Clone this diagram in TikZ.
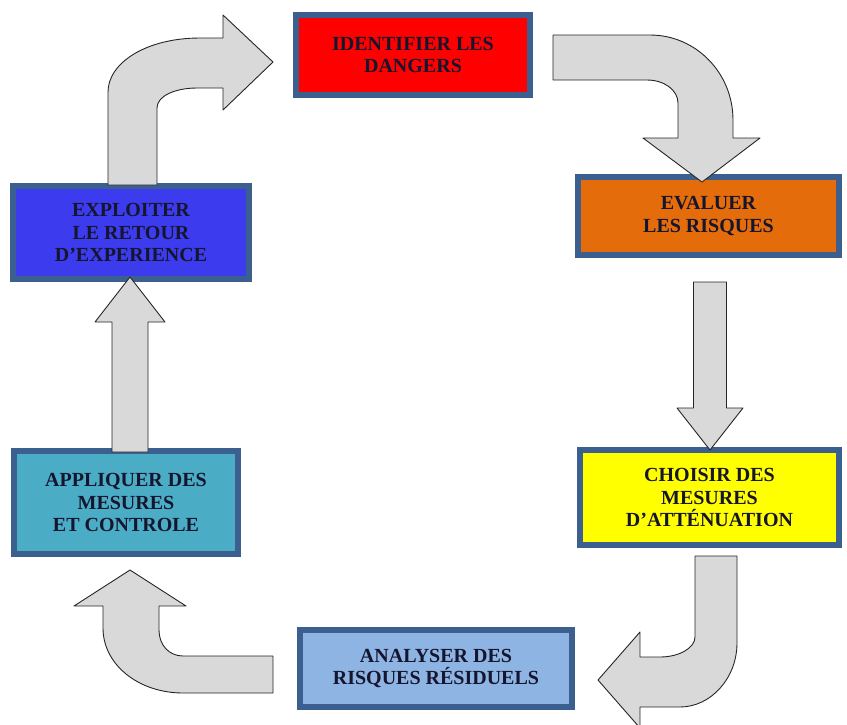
\documentclass[tikz,border=0pt]{standalone}
\usepackage{fontspec}
\setmainfont{Liberation Serif}
\definecolor{bord}{HTML}{3B5F8F}
\definecolor{txt}{HTML}{15152E}
\definecolor{cred}{HTML}{FF0000}
\definecolor{corange}{HTML}{E46C0A}
\definecolor{cyellow}{HTML}{FFFF00}
\definecolor{clblue}{HTML}{8DB4E2}
\definecolor{cteal}{HTML}{4BACC6}
\definecolor{cblue}{HTML}{3C3CEE}
\definecolor{agray}{HTML}{D9D9D9}
\begin{document}
\begin{tikzpicture}[x=1pt,y=-1pt,
  box/.style={draw=bord, line width=6pt, align=center, text=txt,
    font=\bfseries\fontsize{20}{22.5}\selectfont, inner sep=0pt},
  barrow/.style={fill=agray, draw=black!85, line width=0.9pt, line join=round}]
\useasboundingbox (0,0) rectangle (847,724);
% boxes
\node[box, fill=cred, minimum width=234pt, minimum height=80pt] (ident) at (413,55) {IDENTIFIER LES\\DANGERS};
\node[box, fill=corange, minimum width=261pt, minimum height=78pt] (eval) at (708.5,216) {EVALUER\\LES RISQUES};
\node[box, fill=cyellow, minimum width=259pt, minimum height=95pt] (chois) at (709.5,497.5) {CHOISIR DES\\MESURES\\D’ATTÉNUATION};
\node[box, fill=clblue, minimum width=272pt, minimum height=77pt] (analy) at (436,668.5) {ANALYSER DES\\RISQUES RÉSIDUELS};
\node[box, fill=cteal, minimum width=224pt, minimum height=103pt] (appl) at (126,502.5) {APPLIQUER DES\\MESURES\\ET CONTROLE};
\node[box, fill=cblue, minimum width=236pt, minimum height=93pt] (expl) at (131,232.5) {EXPLOITER\\LE RETOUR\\D’EXPERIENCE};
% curved arrow: exploiter -> identifier
\draw[barrow] (108,185) -- (108,92) .. controls (108,63) and (146,38) .. (200,38)
  -- (223,38) -- (223,15) -- (273,62) -- (223,110) -- (223,88) -- (197,88)
  .. controls (175,88) and (157,96) .. (157,108) -- (157,185) -- cycle;
% curved arrow: identifier -> evaluer
\draw[barrow] (553,35) -- (650,35) .. controls (696,35) and (733,73) .. (733,120)
  -- (733,138) -- (760,138) -- (702,182) -- (643,138) -- (678,138) -- (678,103)
  .. controls (678,90) and (664,80) .. (647,80) -- (553,80) -- cycle;
% straight arrow: evaluer -> choisir
\draw[barrow] (693.5,282) -- (726.5,282) -- (726.5,408) -- (743,408) -- (710,450)
  -- (677,408) -- (693.5,408) -- cycle;
% curved arrow: choisir -> analyser
\draw[barrow] (695,556) -- (737,556) -- (737,643) .. controls (737,678) and (711,707) .. (680,707)
  -- (640,707) -- (640,728) -- (598,680) -- (640,632) -- (640,657) -- (660,657)
  .. controls (679,657) and (695,648) .. (695,637) -- cycle;
% curved arrow: analyser -> appliquer
\draw[barrow] (273,656) -- (273,693) -- (183,693) .. controls (139,693) and (103,665) .. (103,628)
  -- (103,606) -- (74,606) -- (130,570) -- (186,606) -- (159,606) -- (159,630)
  .. controls (159,645) and (169,656) .. (183,656) -- cycle;
% straight arrow: appliquer -> exploiter
\draw[barrow] (112,452) -- (112,322) -- (95,322) -- (130,277) -- (165,322) -- (148,322)
  -- (148,452) -- cycle;
\end{tikzpicture}
\end{document}
